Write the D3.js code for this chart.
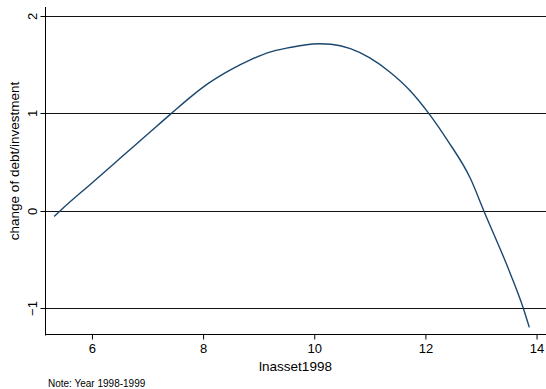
<!DOCTYPE html>
<html>
<head>
<meta charset="utf-8">
<script src="https://cdn.jsdelivr.net/npm/d3@7"></script>
<style>
body{margin:0;background:#fff}
text{font-family:"Liberation Sans",Arial,sans-serif;fill:#000}
</style>
</head>
<body>
<svg id="chart" width="546" height="389"></svg>
<script>
// fitted values
lnasset=[5.32,5.43,6.0,6.5,7.0,7.43,7.8,8.1,8.5,8.85,9.2,9.5,9.8,10.1,10.3,10.65,11.0,11.37,11.73,12.06,12.4,12.81,13.05,13.53,13.76,13.87]
change=[-0.06,0,0.285,0.535,0.785,1.0,1.18,1.31,1.45,1.55,1.63,1.67,1.70,1.715,1.71,1.665,1.57,1.42,1.23,1.0,0.72,0.33,0,-0.65,-1.0,-1.2]
xticks=[6,8,10,12,14]
yticks=[-1,0,1,2]

// plot box (window.top is reserved, so prefixed names)
pLeft=45;pRight=546;pTop=7;pBottom=335;

svg=d3.select("#chart")

xs=d3.scaleLinear().domain([5.155,14.17]).range([pLeft,pRight])
ys=d3.scaleLinear().domain([-1.278,2.093]).range([pBottom,pTop])

// grid lines
svg.selectAll("line.grid")
    .data(yticks)
    .enter()
    .append("line")
    .attr("class","grid")
    .attr("x1",pLeft).attr("x2",pRight)
    .attr("y1",d=>Math.round(ys(d))+0.5)
    .attr("y2",d=>Math.round(ys(d))+0.5)
    .style("stroke","#111")
    .style("stroke-width",1)

// y axis
yAxis=svg.append("g")
    .attr("transform","translate("+(pLeft+0.5)+",0)")
    .call(d3.axisLeft(ys).tickValues(yticks).tickSize(5).tickFormat(d3.format("d")))
yAxis.select(".domain").attr("d","M0,"+pTop+"V"+(pBottom+0.5))
yAxis.selectAll(".tick").attr("transform",d=>"translate(0,"+(Math.round(ys(d))+0.5)+")")
yAxis.selectAll(".tick text")
    .attr("x",null).attr("dy",null)
    .attr("transform","translate(-9,0) rotate(-90)")
    .attr("text-anchor","middle")
    .style("font-size","13px")
    .style("font-family","Liberation Sans, Arial, sans-serif")

// x axis
xAxis=svg.append("g")
    .attr("transform","translate(0,"+(pBottom-0.5)+")")
    .call(d3.axisBottom(xs).tickValues(xticks).tickSize(5).tickFormat(d3.format("d")))
xAxis.select(".domain").attr("d","M"+pLeft+",0H"+pRight)
xAxis.selectAll(".tick text")
    .attr("y",9).attr("dy","0.71em")
    .style("font-size","13px")
    .style("font-family","Liberation Sans, Arial, sans-serif")

// curve
pts=lnasset.map((v,i)=>[v,change[i]])
fitLine=d3.line().x(d=>xs(d[0])).y(d=>ys(d[1])).curve(d3.curveMonotoneX)
svg.append("path")
    .datum(pts)
    .attr("d",fitLine)
    .attr("fill","none")
    .attr("stroke","#1a476f")
    .attr("stroke-width",1.4)

// titles
svg.append("text")
    .attr("transform","translate(19,161) rotate(-90)")
    .attr("text-anchor","middle")
    .style("font-size","13.5px")
    .text("change of debt/investment")

svg.append("text")
    .attr("x",(pLeft+pRight)/2).attr("y",371)
    .attr("text-anchor","middle")
    .style("font-size","13.5px")
    .text("lnasset1998")

svg.append("text")
    .attr("x",48).attr("y",387)
    .style("font-size","10px")
    .text("Note: Year 1998-1999")
</script>
</body>
</html>
